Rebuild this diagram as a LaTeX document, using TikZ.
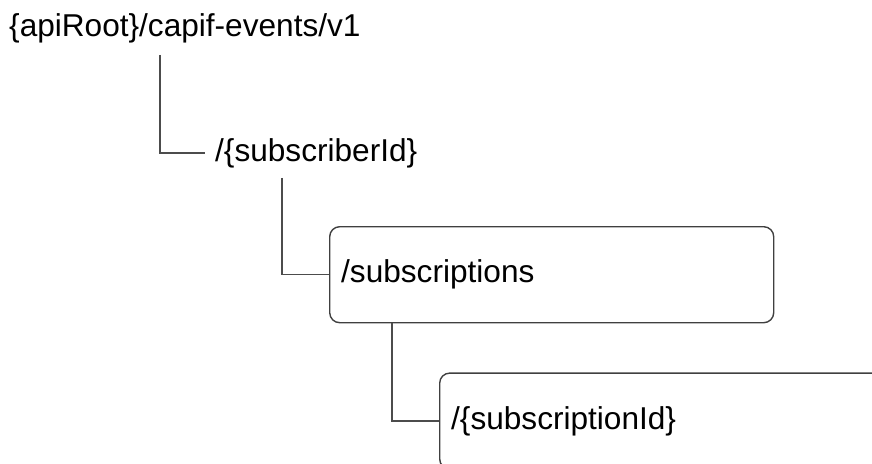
\documentclass[tikz,border=0pt]{standalone}
\usepackage{fontspec}
\setmainfont{Liberation Sans}
\usetikzlibrary{positioning}

\begin{document}
\begin{tikzpicture}[x=1pt, y=-1pt,
  every node/.style={font=\fontsize{31.6}{38}\selectfont},
  pathtext/.style={inner sep=0pt},
  resbox/.style={draw=black!75, line width=1.4pt, rounded corners=10pt,
    text width=421pt, inner xsep=11.5pt, minimum height=96pt, align=left},
  branch/.style={draw=black!70, line width=1.4pt}]
  \useasboundingbox (0,0) rectangle (872,463);
  \node (root) [pathtext, anchor=base west] at (9,36) {\{apiRoot\}/capif-events/v1};
  \node (subscriber) [pathtext, below right=125pt and 206pt of root.base west, anchor=base west] {/\{subscriberId\}};
  \node (subscriptions) [resbox, below right=65pt and 114pt of subscriber.base west] {/subscriptions};
  \node (subscription) [resbox, below right=49pt and 110pt of subscriptions.south west] {/\{subscriptionId\}};
  \draw[branch] ([xshift=151pt, yshift=-12pt]root.south west) |- ([xshift=-10pt]subscriber.west);
  \draw[branch] ([xshift=67pt, yshift=-10pt]subscriber.south west) |- (subscriptions.west);
  \draw[branch] ([xshift=63pt]subscriptions.south west) |- (subscription.west);
\end{tikzpicture}
\end{document}
